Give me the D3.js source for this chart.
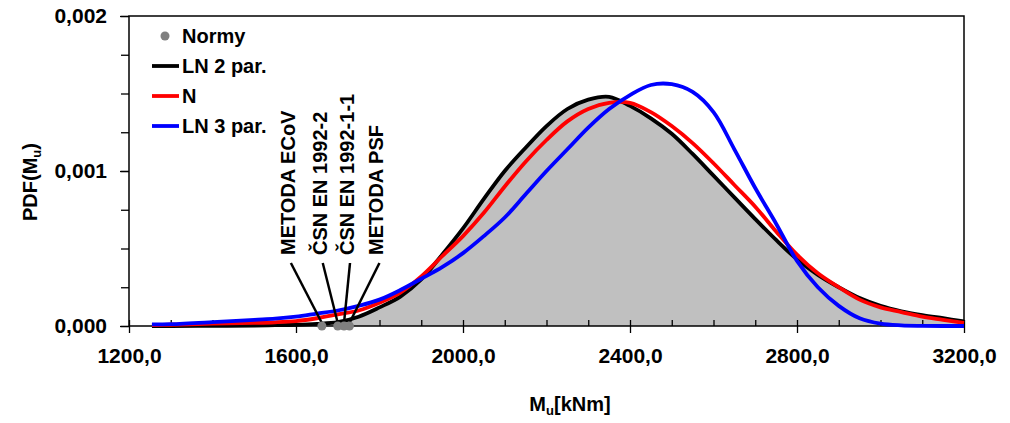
<!DOCTYPE html>
<html>
<head>
<meta charset="utf-8">
<script src="https://cdn.jsdelivr.net/npm/d3@7"></script>
<style>
  html, body { margin: 0; padding: 0; background: #fff; }
  svg { display: block; }
  text { font-family: "Liberation Sans", Arial, sans-serif; font-weight: bold; fill: #000; }
</style>
</head>
<body>
<svg id="chart" width="1010" height="423"></svg>
<script>
// ---------- data ----------
const muValues = [1255, 1300, 1400, 1500, 1550, 1600, 1650, 1700, 1750, 1800, 1850, 1900, 1950, 2000, 2050, 2100, 2150, 2200, 2250, 2300, 2350, 2400, 2450, 2500, 2550, 2600, 2650, 2700, 2750, 2800, 2850, 2900, 2950, 3000, 3050, 3100, 3150, 3200];
const ln2par = [0, 0, 0.000001, 0.000003, 0.000005, 0.000008, 0.000014, 0.000025, 0.00006, 0.00012, 0.00019, 0.0003, 0.00046, 0.00063, 0.00082, 0.001, 0.00115, 0.00129, 0.0014, 0.00146, 0.001478, 0.00142, 0.00134, 0.00124, 0.00111, 0.00097, 0.00083, 0.00069, 0.000555, 0.00043, 0.00033, 0.00025, 0.00018, 0.00013, 0.000095, 0.00007, 0.00005, 0.00003];
const nDist  = [0.000005, 0.000008, 0.000015, 0.00002, 0.000024, 0.000032, 0.00005, 0.000075, 0.0001, 0.00015, 0.000215, 0.00032, 0.00045, 0.00058, 0.00073, 0.0009, 0.00106, 0.0012, 0.00132, 0.0014, 0.00144, 0.00144, 0.00138, 0.00129, 0.00118, 0.00105, 0.00091, 0.00077, 0.00061, 0.00046, 0.00034, 0.00025, 0.00017, 0.00012, 0.00009, 0.00006, 0.00004, 0.00002];
const ln3par = [0.00001, 0.000012, 0.000025, 0.00004, 0.000047, 0.00006, 0.00008, 0.0001, 0.00013, 0.00017, 0.000232, 0.000305, 0.00038, 0.00047, 0.00058, 0.0007, 0.00085, 0.001, 0.00114, 0.00128, 0.0014, 0.00149, 0.001555, 0.00156, 0.00151, 0.00138, 0.00114, 0.00089, 0.00066, 0.00042, 0.00025, 0.00013, 0.00005, 0.000015, 0.000004, 0.000001, 0, 0];
const sampleHist = ln2par.slice();   // grey filled area under the sample PDF

const normNames  = ["METODA ECoV", "ČSN EN 1992-2", "ČSN EN 1992-1-1", "METODA PSF"];
const normValues = [1662, 1700, 1715, 1728];
const normPdf    = [0, 0, 0, 0];

const xTicksMajor = [1200, 1600, 2000, 2400, 2800, 3200];
const yTicksMajor = [0, 0.001, 0.002];
const legendNames = ["Normy", "LN 2 par.", "N", "LN 3 par."];

// ---------- layout / style ----------
const L = 129, R = 964, T = 16, B = 326;
const colors = { ln2: "#000000", n: "#FF0000", ln3: "#0000FF", fill: "#C0C0C0", norm: "#808080" };
const labelDx = [-34, -18, 3, 27];   // horizontal offset (px) of each rotated label from its point

const svg = d3.select("#chart");
const x = d3.scaleLinear().domain([1200, 3200]).range([L, R]);
const y = d3.scaleLinear().domain([0, 0.002]).range([B, T]);
const fmtX = v => d3.format(".1f")(v).replace(".", ",");
const fmtY = v => d3.format(".3f")(v).replace(".", ",");
const curve = d3.curveCatmullRom.alpha(0.5);

// grey area
const areaGen = d3.area().x((d, i) => x(muValues[i])).y0(y(0)).y1(d => y(d)).curve(curve);
svg.append("path").datum(sampleHist).attr("d", areaGen).attr("fill", colors.fill);

// x axis: outer major, inner major + minor
const xMinor = d3.range(1200, 3201, 100);
svg.append("g").attr("transform", `translate(0,${B})`)
  .call(d3.axisTop(x).tickValues(xMinor).tickSize(6).tickFormat(""))
  .call(g => g.select(".domain").remove())
  .call(g => g.selectAll("line").attr("stroke", "#000").attr("stroke-width", 1.3));
svg.append("g").attr("transform", `translate(0,${B})`)
  .call(d3.axisBottom(x).tickValues(xTicksMajor).tickSize(7).tickPadding(15).tickFormat(fmtX))
  .call(g => g.select(".domain").remove())
  .call(g => g.selectAll("line").attr("stroke", "#000").attr("stroke-width", 1.3))
  .call(g => g.selectAll("text").attr("font-size", 21).attr("font-family", "Liberation Sans, Arial, sans-serif").attr("font-weight", "bold").attr("fill", "#000"));

// y axis
const yMinor = d3.range(0, 0.00201, 0.00025);
svg.append("g").attr("transform", `translate(${L},0)`)
  .call(d3.axisLeft(y).tickValues(yMinor).tickSize(8).tickFormat(""))
  .call(g => g.select(".domain").remove())
  .call(g => g.selectAll("line").attr("stroke", "#000").attr("stroke-width", 1.3));
svg.append("g").attr("transform", `translate(${L},0)`)
  .call(d3.axisLeft(y).tickValues(yTicksMajor).tickSize(9).tickPadding(13).tickFormat(fmtY))
  .call(g => g.select(".domain").remove())
  .call(g => g.selectAll("line").attr("stroke", "#000").attr("stroke-width", 1.3))
  .call(g => g.selectAll("text").attr("font-size", 21).attr("font-family", "Liberation Sans, Arial, sans-serif").attr("font-weight", "bold").attr("fill", "#000"));

// frame
svg.append("rect").attr("x", L).attr("y", T).attr("width", R - L).attr("height", B - T)
  .attr("fill", "none").attr("stroke", "#000").attr("stroke-width", 1.5);

// curves
const lineGen = d3.line().x((d, i) => x(muValues[i])).y(d => Math.min(y(0), y(d))).curve(curve);
[[ln2par, colors.ln2], [nDist, colors.n], [ln3par, colors.ln3]].forEach(([data, c]) => {
  svg.append("path").datum(data).attr("d", lineGen).attr("fill", "none")
    .attr("stroke", c).attr("stroke-width", 3.8).attr("stroke-linejoin", "round");
});

// norm points + annotations
const labelBaseY = 255, lineTopY = 263;
normValues.forEach((v, i) => {
  const px = x(v), py = y(normPdf[i]);
  const lx = px + labelDx[i];
  svg.append("line").attr("x1", lx + 3).attr("y1", lineTopY).attr("x2", px).attr("y2", py - 3)
    .attr("stroke", "#000").attr("stroke-width", 2.5);
  svg.append("text").attr("transform", `translate(${lx + 7},${labelBaseY}) rotate(-90)`)
    .attr("font-size", 20).text(normNames[i]);
});
normValues.forEach((v, i) => {
  svg.append("circle").attr("cx", x(v)).attr("cy", y(normPdf[i])).attr("r", 4.5).attr("fill", colors.norm);
});

// legend
const legY = [36, 66, 96, 126];
const legColors = [colors.norm, colors.ln2, colors.n, colors.ln3];
legendNames.forEach((name, i) => {
  if (i === 0) {
    svg.append("circle").attr("cx", 165).attr("cy", legY[i]).attr("r", 4.5).attr("fill", legColors[i]);
  } else {
    svg.append("line").attr("x1", 152).attr("x2", 179).attr("y1", legY[i]).attr("y2", legY[i])
      .attr("stroke", legColors[i]).attr("stroke-width", 3.8);
  }
  svg.append("text").attr("x", 182).attr("y", legY[i] + 7).attr("font-size", 20).text(name);
});

// axis titles
const yt = svg.append("text").attr("transform", "translate(37,182) rotate(-90)")
  .attr("text-anchor", "middle").attr("font-size", 20);
yt.append("tspan").text("PDF(M");
yt.append("tspan").attr("font-size", 13).attr("dy", 4).text("u");
yt.append("tspan").attr("dy", -4).text(")");

const xt = svg.append("text").attr("x", 570).attr("y", 411).attr("text-anchor", "middle").attr("font-size", 20);
xt.append("tspan").text("M");
xt.append("tspan").attr("font-size", 13).attr("dy", 4).text("u");
xt.append("tspan").attr("dy", -4).text("[kNm]");
</script>
</body>
</html>
